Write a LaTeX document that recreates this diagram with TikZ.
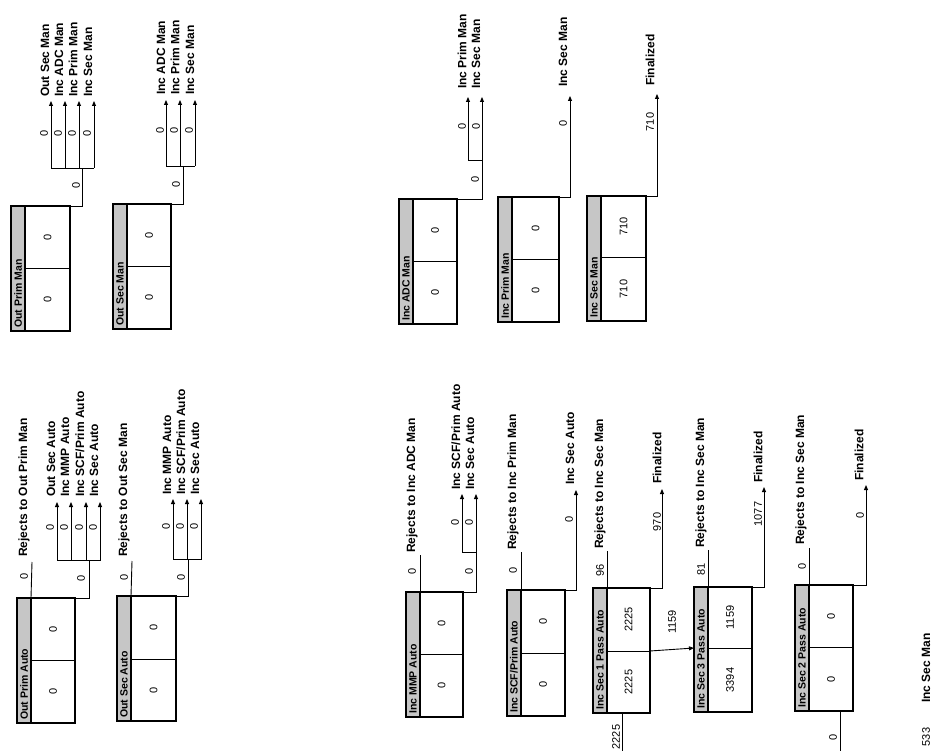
\documentclass[tikz,border=0pt]{standalone}
\usepackage{fontspec}
\setmainfont{Liberation Sans}
\usetikzlibrary{arrows.meta}
\tikzset{
  boxline/.style={line width=1.3pt},
  hdr/.style={fill=gray!45, draw, line width=1.4pt},
  cellline/.style={line width=0.9pt},
  conn/.style={line width=0.9pt},
  arr/.style={conn, -{Triangle[length=5pt,width=4pt]}},
  lbl/.style={rotate=90, anchor=west, inner sep=0pt, font=\fontsize{12}{14}\selectfont\bfseries},
  num/.style={rotate=90, inner sep=0pt, font=\fontsize{11}{13}\selectfont},
  hdrtext/.style={rotate=90, anchor=west, inner sep=0pt, font=\fontsize{10.5}{12}\selectfont\bfseries},
}
% #1 name, #2 x1, #3 y1, #4 x2, #5 y2, #6 divider y, #7 header, #8 upper value, #9 lower value
\newcommand{\mybox}[9]{%
  \fill[white] (#2,#3) rectangle (#4,#5);
  \draw[cellline] ({#2+14},#6) -- (#4,#6);
  \draw[hdr] (#2,#3) rectangle ({#2+14},#5);
  \draw[boxline] (#2,#3) rectangle (#4,#5);
  \node[hdrtext] (#1-hd) at ({#2+7},{#5-3}) {#7};
  \node[num] (#1-v1) at ({(#2+14+#4)/2},{(#3+#6)/2}) {#8};
  \node[num] (#1-v2) at ({(#2+14+#4)/2},{(#6+#5)/2}) {#9};
  \coordinate (#1-tr) at (#4,#3);
  \coordinate (#1-br) at (#4,#5);
  \coordinate (#1-tl) at ({#2+14},#3);
  \coordinate (#1-mr) at (#4,#6);
  \coordinate (#1-ml) at (#2,#6);
}
\begin{document}
\begin{tikzpicture}[x=1pt,y=-1pt]
\fill[white] (0,0) rectangle (935,751);
\useasboundingbox (0,0) rectangle (935,751);

% ---------------- top row ----------------
\mybox{A}{11}{206}{70}{331}{268}{Out Prim Man}{0}{0}
\coordinate (A-k) at (82,168);
\draw[conn] (A-tr) -| (A-k);
\node[num] (A-kn) at (76,185) {0};
\coordinate (A-bl) at (51,168); \coordinate (A-brr) at (94,168);
\draw[conn] (A-bl) -- (A-brr);
\foreach \x/\t [count=\i] in {51/{Out Sec Man},65/{Inc ADC Man},79/{Inc Prim Man},94/{Inc Sec Man}}{
  \coordinate (A-s\i) at (\x,168); \coordinate (A-e\i) at (\x,101);
  \draw[arr] (A-s\i) -- (A-e\i);
  \node[num] (A-n\i) at (\x-7,133) {0};
  \node[lbl] (A-l\i) at (\x-6,97) {\t};
}

\mybox{B}{113}{204}{171}{329}{266}{Out Sec Man}{0}{0}
\coordinate (B-k) at (183,166);
\draw[conn] (B-tr) -| (B-k);
\node[num] (B-kn) at (176,184) {0};
\coordinate (B-bl) at (166,166); \coordinate (B-brr) at (195,166);
\draw[conn] (B-bl) -- (B-brr);
\foreach \x/\t [count=\i] in {166/{Inc ADC Man},180/{Inc Prim Man},195/{Inc Sec Man}}{
  \coordinate (B-s\i) at (\x,166); \coordinate (B-e\i) at (\x,100);
  \draw[arr] (B-s\i) -- (B-e\i);
  \node[num] (B-n\i) at (\x-6,130) {0};
  \node[lbl] (B-l\i) at (\x-5,95) {\t};
}

\mybox{C}{399}{199}{457}{324}{261}{Inc ADC Man}{0}{0}
\coordinate (C-k) at (482,160);
\draw[conn] (C-tr) -| (C-k);
\node[num] (C-kn) at (475,179) {0};
\coordinate (C-bl) at (468,160);
\draw[conn] (C-bl) -- (C-k);
\foreach \x/\t [count=\i] in {468/{Inc Prim Man},482/{Inc Sec Man}}{
  \coordinate (C-s\i) at (\x,160); \coordinate (C-e\i) at (\x,97);
  \draw[arr] (C-s\i) -- (C-e\i);
  \node[num] (C-n\i) at (\x-6,126) {0};
  \node[lbl] (C-l\i) at (\x-6,89) {\t};
}

\mybox{D}{498}{197}{559}{322}{259}{Inc Prim Man}{0}{0}
\coordinate (D-e) at (570,96);
\draw[arr] (D-tr) -| (D-e);
\node[num] (D-n) at (563,123) {0};
\node[lbl] (D-l) at (563,87) {Inc Sec Man};

\mybox{E}{587}{196}{646}{321}{257}{Inc Sec Man}{710}{710}
\coordinate (E-e) at (657,94);
\draw[arr] (E-tr) -| (E-e);
\node[num] (E-n) at (650,122) {710};
\node[lbl] (E-l) at (650,86) {Finalized};

% ---------------- bottom row ----------------
\mybox{F}{17}{598}{75}{723}{660}{Out Prim Auto}{0}{0}
\coordinate (F-r) at (32,562);
\draw[conn] (F-tl) -- (F-r);
\node[num] (F-rn) at (24,576) {0};
\node[lbl] (F-rl) at (24,557) {Rejects to Out Prim Man};
\coordinate (F-k) at (89,560);
\draw[conn] (F-tr) -| (F-k);
\node[num] (F-kn) at (81,578) {0};
\coordinate (F-bl) at (57,560); \coordinate (F-brr) at (101,560);
\draw[conn] (F-bl) -- (F-brr);
\foreach \x/\t [count=\i] in {57/{Out Sec Auto},71/{Inc MMP Auto},86/{Inc SCF/Prim Auto},100/{Inc Sec Auto}}{
  \coordinate (F-s\i) at (\x,560); \coordinate (F-e\i) at (\x,502);
  \draw[arr] (F-s\i) -- (F-e\i);
  \node[num] (F-n\i) at (\x-7,527) {0};
  \node[lbl] (F-l\i) at (\x-6,497) {\t};
}

\mybox{G}{117}{596}{176}{721}{659}{Out Sec Auto}{0}{0}
\coordinate (G-r) at (132,561);
\draw[conn] (G-tl) -- (G-r);
\node[num] (G-rn) at (124,577) {0};
\node[lbl] (G-rl) at (124,557) {Rejects to Out Sec Man};
\coordinate (G-k) at (188,559);
\draw[conn] (G-tr) -| (G-k);
\node[num] (G-kn) at (181,577) {0};
\coordinate (G-bl) at (173,559); \coordinate (G-brr) at (202,559);
\draw[conn] (G-bl) -- (G-brr);
\foreach \x/\t [count=\i] in {173/{Inc MMP Auto},187/{Inc SCF/Prim Auto},201/{Inc Sec Auto}}{
  \coordinate (G-s\i) at (\x,559); \coordinate (G-e\i) at (\x,499);
  \draw[arr] (G-s\i) -- (G-e\i);
  \node[num] (G-n\i) at (\x-7,526) {0};
  \node[lbl] (G-l\i) at (\x-6,495) {\t};
}

\mybox{H}{406}{592}{463}{717}{654}{Inc MMP Auto}{0}{0}
\coordinate (H-r) at (420,555);
\draw[conn] (H-tl) -- (H-r);
\node[num] (H-rn) at (412,571) {0};
\node[lbl] (H-rl) at (412,553) {Rejects to Inc ADC Man};
\coordinate (H-k) at (476,552);
\draw[conn] (H-tr) -| (H-k);
\node[num] (H-kn) at (469,571) {0};
\coordinate (H-bl) at (462,552);
\draw[conn] (H-bl) -- (H-k);
\foreach \x/\t [count=\i] in {462/{Inc SCF/Prim Auto},476/{Inc Sec Auto}}{
  \coordinate (H-s\i) at (\x,552); \coordinate (H-e\i) at (\x,494);
  \draw[arr] (H-s\i) -- (H-e\i);
  \node[num] (H-n\i) at (\x-7,522) {0};
  \node[lbl] (H-l\i) at (\x-6,490) {\t};
}

\mybox{I}{507}{590}{565}{716}{653}{Inc SCF/Prim Auto}{0}{0}
\coordinate (I-r) at (521,552);
\draw[conn] (I-tl) -- (I-r);
\node[num] (I-rn) at (513,570) {0};
\node[lbl] (I-rl) at (513,550) {Rejects to Inc Prim Man};
\coordinate (I-e) at (576,490);
\draw[arr] (I-tr) -| (I-e);
\node[num] (I-n) at (569,519) {0};
\node[lbl] (I-l) at (570,485) {Inc Sec Auto};

\mybox{J}{593}{588}{650}{713}{651}{Inc Sec 1 Pass Auto}{2225}{2225}
\coordinate (J-r) at (607,551);
\draw[conn] (J-tl) -- (J-r);
\node[num] (J-rn) at (600,570) {96};
\node[lbl] (J-rl) at (600,549) {Rejects to Inc Sec Man};
\coordinate (J-e) at (662,489);
\draw[arr] (J-tr) -| (J-e);
\node[num] (J-n) at (657,522) {970};
\node[lbl] (J-l) at (657,484) {Finalized};
\coordinate (J-in) at (622,760);
\draw[conn] (J-in) -- (J-in |- J-br);
\node[num] (J-inn) at (616,737) {2225};

\mybox{K}{694}{587}{752}{712}{648}{Inc Sec 3 Pass Auto}{1159}{3394}
\draw[arr] (J-mr) -- (K-ml);
\node[num] (JK-n) at (672,622) {1159};
\coordinate (K-r) at (708,550);
\draw[conn] (K-tl) -- (K-r);
\node[num] (K-rn) at (701,569) {81};
\node[lbl] (K-rl) at (701,548) {Rejects to Inc Sec Man};
\coordinate (K-e) at (764,487);
\draw[arr] (K-tr) -| (K-e);
\node[num] (K-n) at (758,514) {1077};
\node[lbl] (K-l) at (758,483) {Finalized};

\mybox{L}{795}{585}{853}{711}{647}{Inc Sec 2 Pass Auto}{0}{0}
\coordinate (L-r) at (809,548);
\draw[conn] (L-tl) -- (L-r);
\node[num] (L-rn) at (802,566) {0};
\node[lbl] (L-rl) at (801,545) {Rejects to Inc Sec Man};
\coordinate (L-e) at (866,485);
\draw[arr] (L-tr) -| (L-e);
\node[num] (L-n) at (860,515) {0};
\node[lbl] (L-l) at (859,481) {Finalized};
\coordinate (L-in) at (840,760);
\draw[conn] (L-in) -- (L-in |- L-br);
\node[num] (L-inn) at (833,737) {0};

% text at the right edge
\node[lbl] (M-l) at (926,703) {Inc Sec Man};
\node[num] (M-n) at (926,737) {533};
\end{tikzpicture}
\end{document}
